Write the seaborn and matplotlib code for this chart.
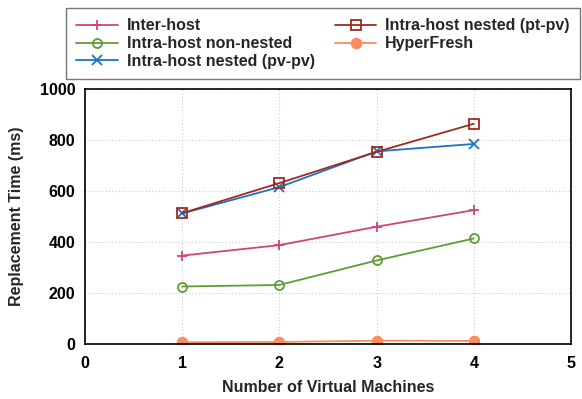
import matplotlib
matplotlib.use("Agg")
import matplotlib.pyplot as plt
import seaborn as sns
import pandas as pd

vms = [1, 2, 3, 4]
inter_host = [346, 387, 459, 524]
intra_non_nested = [225, 231, 327, 413]
intra_nested_pvpv = [511, 614, 754, 783]
intra_nested_ptpv = [512, 630, 752, 862]
hyperfresh = [7, 8, 13, 12]

series_names = ["Inter-host", "Intra-host non-nested", "Intra-host nested (pv-pv)",
                "Intra-host nested (pt-pv)", "HyperFresh"]
series_values = [inter_host, intra_non_nested, intra_nested_pvpv, intra_nested_ptpv, hyperfresh]

rows = []
for name, vals in zip(series_names, series_values):
    for x, v in zip(vms, vals):
        rows.append({"vms": x, "time": v, "series": name})
df = pd.DataFrame(rows)

sns.set_theme(style="white")
plt.rcParams['font.family'] = ['Liberation Sans', 'DejaVu Sans']
plt.rcParams['font.weight'] = 'bold'

colors = ["#d0437a", "#5e9e34", "#1a73c4", "#a02a20", "#ff8c5e"]
markers = ["+", "o", "x", "s", "o"]
mfc = ["#d0437a", "none", "#1a73c4", "none", "#ff8c5e"]
msizes = [7, 6.5, 6.5, 6.5, 7]

fig = plt.figure(figsize=(5.82, 3.99), dpi=100)
ax = fig.add_axes([85/582, 1 - 344/399, (571-85)/582, (344-88.5)/399])

for i, name in enumerate(series_names):
    sub = df[df["series"] == name]
    sns.lineplot(data=sub, x="vms", y="time", ax=ax, color=colors[i], marker=markers[i],
                 markersize=msizes[i], markerfacecolor=mfc[i], markeredgecolor=colors[i],
                 markeredgewidth=1.3, linewidth=1.3, label=name)

ax.set_xlim(0, 5)
ax.set_ylim(0, 1000)
ax.set_xticks([0, 1, 2, 3, 4, 5])
ax.set_yticks([0, 200, 400, 600, 800, 1000])
ax.tick_params(axis='both', direction='in', length=4, width=1, labelsize=11.5, colors='black')
ax.tick_params(axis='x', pad=9)
ax.tick_params(axis='y', pad=7)
for lab in ax.get_xticklabels() + ax.get_yticklabels():
    lab.set_fontweight('bold')
ax.grid(True, linestyle=(0, (1, 2)), color='#cccccc', linewidth=0.8)
for s in ax.spines.values():
    s.set_color('black')
    s.set_linewidth(1.2)
ax.set_xlabel("Number of Virtual Machines", fontsize=11.5, fontweight='bold', labelpad=6)
ax.set_ylabel("Replacement Time (ms)", fontsize=11.5, fontweight='bold', labelpad=11)

handles, labels = ax.get_legend_handles_labels()
if ax.get_legend():
    ax.get_legend().remove()
leg = fig.legend(handles, labels, ncol=2, loc='upper left',
                 bbox_to_anchor=(66/582, 1 - 78/399, (580-66)/582, (78-8)/399),
                 mode='expand', frameon=True, fancybox=False, edgecolor='#555555',
                 prop={'weight': 'bold', 'size': 11.5}, handlelength=2.6, handletextpad=0.55,
                 labelspacing=0.17, borderaxespad=0, columnspacing=1.5, borderpad=0.65)
leg.get_frame().set_linewidth(1.0)

fig.savefig("out.png", dpi=100)
